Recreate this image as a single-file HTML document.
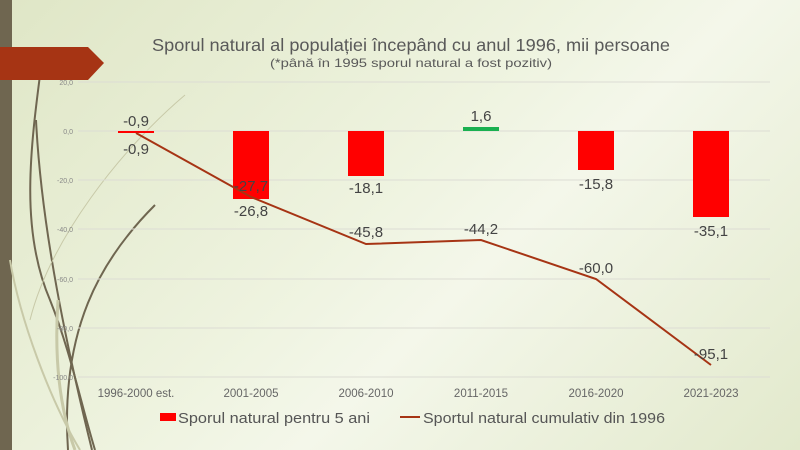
<!DOCTYPE html>
<html><head><meta charset="utf-8"><style>
body{margin:0;width:800px;height:450px;overflow:hidden;background:linear-gradient(135deg,#dfe6c6 0%,#eef3df 45%,#f4f7ea 60%,#e2e9cc 100%);font-family:"Century Gothic","Liberation Sans",sans-serif;}
svg{position:absolute;left:0;top:0}
</style></head><body>
<svg width="800" height="450" xmlns="http://www.w3.org/2000/svg">
<rect x="0" y="0" width="12" height="450" fill="#6f6650"/>
<g fill="none" stroke="#6f6650" stroke-width="2">
<path d="M42 60 C30 150 20 230 50 300 C70 350 80 400 95 450"/>
<path d="M36 120 C40 200 55 300 92 450"/>
<path d="M155 205 C100 260 60 330 68 450"/>
<path d="M185 95 C120 150 50 240 30 320" stroke="#c8c9a8" stroke-width="1"/>
<path d="M10 260 C20 320 50 400 80 450" stroke="#c8c9a8"/>
<path d="M58 300 C54 360 60 410 75 450" stroke="#c8c9a8" stroke-width="3"/>
</g>
<polygon points="0,47 88,47 104,63 88,80 0,80" fill="#a63414"/>
<text x="411" y="51" text-anchor="middle" font-size="17.5" fill="#595959" textLength="518" lengthAdjust="spacingAndGlyphs">Sporul natural al populației începând cu anul 1996, mii persoane</text>
<text x="411" y="67" text-anchor="middle" font-size="12" fill="#595959" textLength="282" lengthAdjust="spacingAndGlyphs">(*până în 1995 sporul natural a fost pozitiv)</text>
<g stroke="#dcdcd4" stroke-width="1">
<line x1="78" y1="82" x2="770" y2="82"/><line x1="78" y1="131" x2="770" y2="131"/><line x1="78" y1="180" x2="770" y2="180"/><line x1="78" y1="229" x2="770" y2="229"/><line x1="78" y1="279" x2="770" y2="279"/><line x1="78" y1="328" x2="770" y2="328"/><line x1="78" y1="377" x2="770" y2="377"/>
</g>
<g font-size="7" fill="#888" text-anchor="end">
<text x="73" y="85">20,0</text><text x="73" y="134">0,0</text><text x="73" y="183">-20,0</text><text x="73" y="232">-40,0</text><text x="73" y="282">-60,0</text><text x="73" y="331">-80,0</text><text x="73" y="380">-100,0</text>
</g>
<rect x="118" y="131" width="36" height="2" fill="#f00"/>
<rect x="233" y="131" width="36" height="68" fill="#f00"/>
<rect x="348" y="131" width="36" height="45" fill="#f00"/>
<rect x="463" y="127" width="36" height="4" fill="#1ab050"/>
<rect x="578" y="131" width="36" height="39" fill="#f00"/>
<rect x="693" y="131" width="36" height="86" fill="#f00"/>
<polyline points="136,133 251,197 366,244 481,240 596,279 711,365" fill="none" stroke="#a63414" stroke-width="2"/>
<g font-size="15" fill="#444" text-anchor="middle">
<text x="136" y="126">-0,9</text><text x="136" y="154">-0,9</text>
<text x="251" y="191">-27,7</text><text x="251" y="216">-26,8</text>
<text x="366" y="193">-18,1</text><text x="366" y="237">-45,8</text>
<text x="481" y="121">1,6</text><text x="481" y="234">-44,2</text>
<text x="596" y="189">-15,8</text><text x="596" y="273">-60,0</text>
<text x="711" y="236">-35,1</text><text x="711" y="359">-95,1</text>
</g>
<g font-size="11.5" fill="#666" text-anchor="middle">
<text x="136" y="397">1996-2000 est.</text><text x="251" y="397">2001-2005</text><text x="366" y="397">2006-2010</text><text x="481" y="397">2011-2015</text><text x="596" y="397">2016-2020</text><text x="711" y="397">2021-2023</text>
</g>
<rect x="160" y="413" width="16" height="8" fill="#f00"/>
<text x="178" y="423" font-size="15" fill="#555" textLength="192" lengthAdjust="spacingAndGlyphs">Sporul natural pentru 5 ani</text>
<line x1="400" y1="417" x2="420" y2="417" stroke="#a63414" stroke-width="2"/>
<text x="423" y="423" font-size="15" fill="#555" textLength="242" lengthAdjust="spacingAndGlyphs">Sportul natural cumulativ din 1996</text>
</svg>
</body></html>
